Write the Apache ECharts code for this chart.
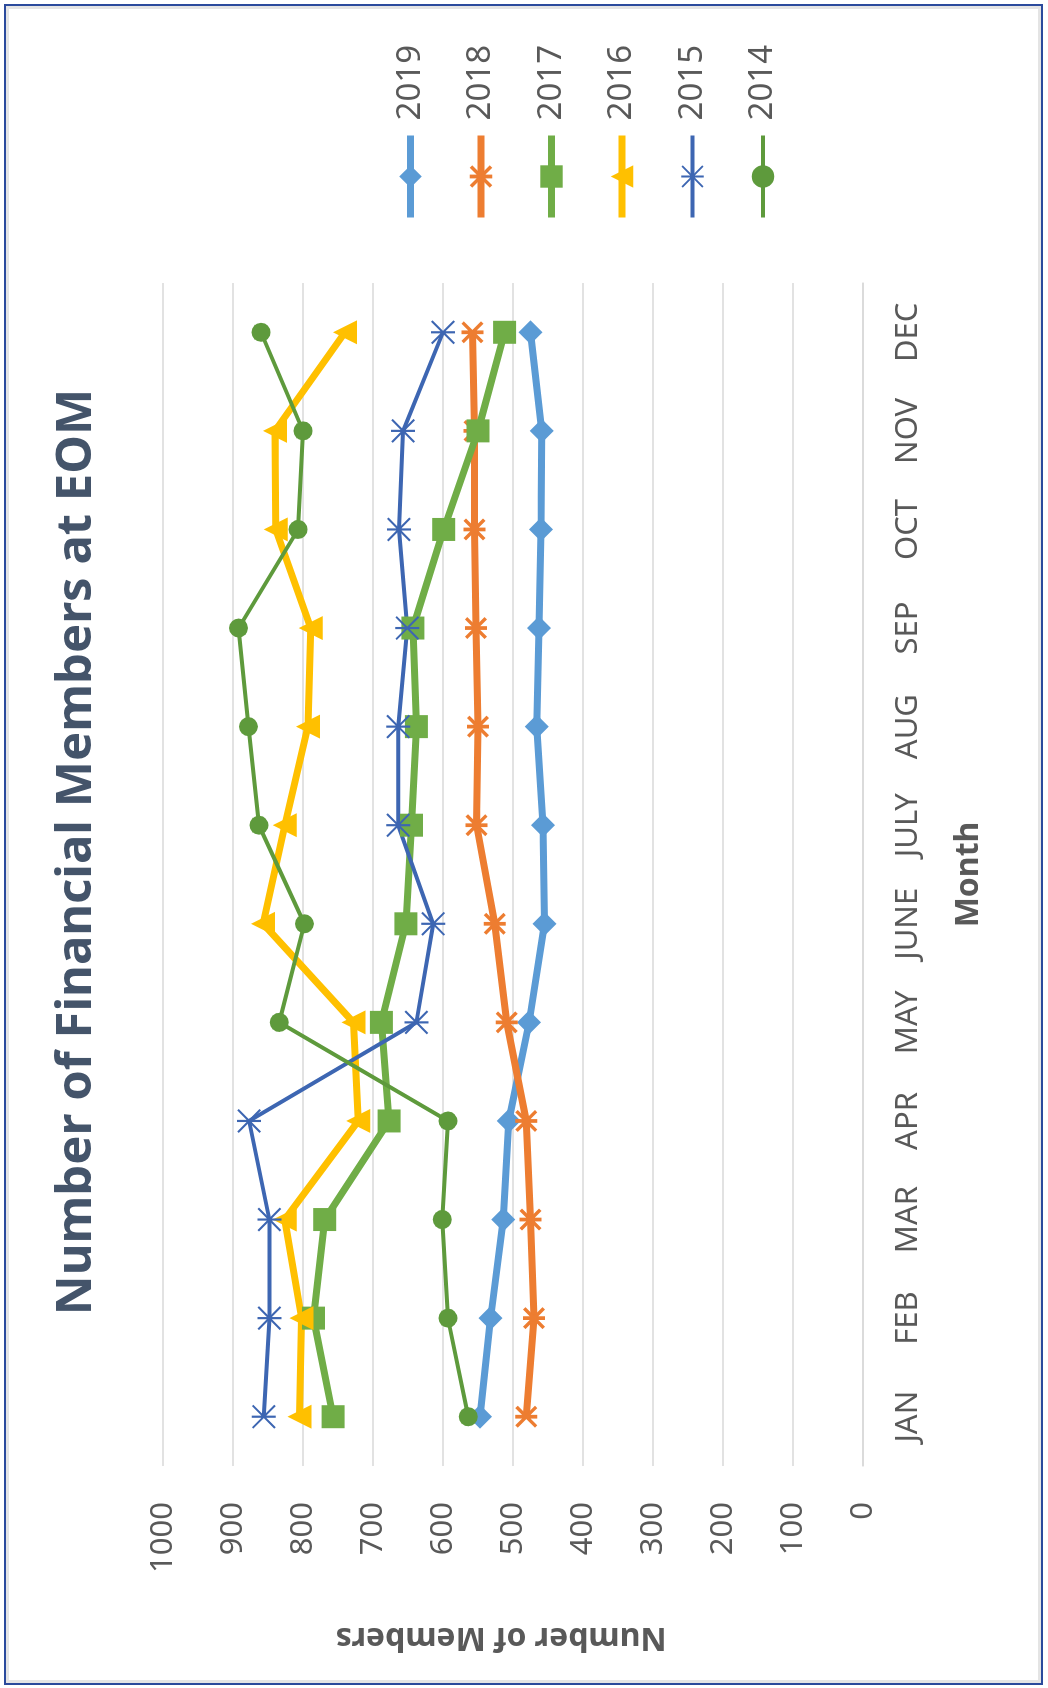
<!DOCTYPE html>
<html>
<head>
<meta charset="utf-8">
<script src="https://cdn.jsdelivr.net/npm/echarts@6/dist/echarts.min.js"></script>
<style>
  html, body { margin: 0; padding: 0; background: #fff; overflow: hidden; }
  #main {
    position: absolute; left: 0; top: 0;
    width: 1688px; height: 1048px;
    transform-origin: 0 0;
    transform: translate(0, 1688px) rotate(-90deg);
  }
  #frame {
    position: absolute; left: 4px; top: 4px;
    width: 1039px; height: 1681px;
    box-sizing: border-box;
    border: 2px solid #2B4A9C;
    box-shadow: inset 0 0 0 3px #E4E4E4;
    pointer-events: none;
  }
</style>
</head>
<body>
<div id="main"></div>
<div id="frame"></div>
<script>
// chart is laid out landscape, then the div is turned a quarter to match the picture
var months = ['JAN', 'FEB', 'MAR', 'APR', 'MAY', 'JUNE', 'JULY', 'AUG', 'SEP', 'OCT', 'NOV', 'DEC'];
var y2019 = [547, 532, 514, 506, 477, 455, 457, 466, 463, 460, 459, 475];
var y2018 = [481, 470, 475, 481, 509, 526, 552, 550, 553, 555, 555, 558];
var y2017 = [757, 785, 769, 677, 688, 653, 645, 638, 643, 599, 550, 512];
var y2016 = [805, 802, 826, 721, 728, 857, 826, 793, 789, 839, 840, 740];
var y2015 = [856, 848, 848, 877, 638, 614, 664, 664, 651, 663, 657, 600];
var y2014 = [564, 593, 601, 593, 834, 798, 863, 878, 892, 807, 800, 860];
var years = ['2019', '2018', '2017', '2016', '2015', '2014'];

var font = '"Noto Sans", "Open Sans", sans-serif';
var starThin = 'path://M9.1 0L10.9 0L10.9 20L9.1 20Z M1.3 0.1L19.9 18.7L18.7 19.9L0.1 1.3Z M18.7 0.1L19.9 1.3L1.3 19.9L0.1 18.7Z';
var starThick = 'path://M8.3 0L11.7 0L11.7 20L8.3 20Z M2.2 0L20 17.8L17.8 20L0 2.2Z M17.8 0L20 2.2L2.2 20L0 17.8Z';

var makeSeries = function (name, data, color, width, symbol, size) {
    return {
        name: name,
        type: 'line',
        data: data,
        symbol: symbol,
        symbolSize: size,
        showAllSymbol: true,
        lineStyle: {color: color, width: width},
        itemStyle: {color: color, borderWidth: 0},
        emphasis: {disabled: true},
        z: 2
    };
};

var option = {
    animation: false,
    graphic: [
        {
            type: 'text',
            x: 836,
            y: 77,
            style: {
                text: 'Number of Financial Members at EOM',
                font: 'bold 49px ' + font,
                fill: '#44546A',
                textAlign: 'center',
                textVerticalAlign: 'middle'
            }
        }
    ],
    legend: {
        orient: 'vertical',
        left: 1462,
        top: 389,
        itemWidth: 82,
        itemHeight: 28,
        itemGap: 37.5,
        data: years,
        lineStyle: {width: 'inherit'},
        textStyle: {fontSize: 33, color: '#595959', fontFamily: font, lineHeight: 28, padding: [0, 0, 0, 10]}
    },
    grid: {left: 222, top: 163, width: 1183, height: 700},
    xAxis: {
        type: 'category',
        data: months,
        boundaryGap: true,
        name: 'Month',
        nameLocation: 'middle',
        nameGap: 90,
        nameTextStyle: {fontSize: 32, fontWeight: 'bold', color: '#595959', fontFamily: font},
        axisLine: {lineStyle: {color: '#D9D9D9', width: 1.5}},
        axisTick: {show: false},
        axisLabel: {fontSize: 31, color: '#595959', fontFamily: font, margin: 30}
    },
    yAxis: {
        type: 'value',
        min: 0,
        max: 1000,
        interval: 100,
        name: 'Number of Members',
        nameLocation: 'middle',
        nameRotate: 90,
        nameGap: 155,
        nameTextStyle: {fontSize: 32, fontWeight: 'bold', color: '#595959', fontFamily: font, padding: [0, 0, 0, 24]},
        axisLine: {show: false},
        axisTick: {show: false},
        axisLabel: {
            fontSize: 31, color: '#595959', fontFamily: font, margin: 36,
            formatter: function (v) { return String(v); }
        },
        splitLine: {lineStyle: {color: '#D9D9D9', width: 1.5}}
    },
    series: [
        makeSeries('2019', y2019, '#5B9BD5', 7, 'diamond', 24),
        makeSeries('2018', y2018, '#ED7D31', 7, starThick, 22),
        makeSeries('2017', y2017, '#70AD47', 7, 'rect', 23),
        makeSeries('2016', y2016, '#FFC000', 7, 'triangle', 24),
        makeSeries('2015', y2015, '#3D66B2', 4, starThin, 24),
        makeSeries('2014', y2014, '#5E9A3C', 4, 'circle', 19)
    ]
};

var myChart = echarts.init(document.getElementById('main'));
myChart.setOption(option);
</script>
</body>
</html>
